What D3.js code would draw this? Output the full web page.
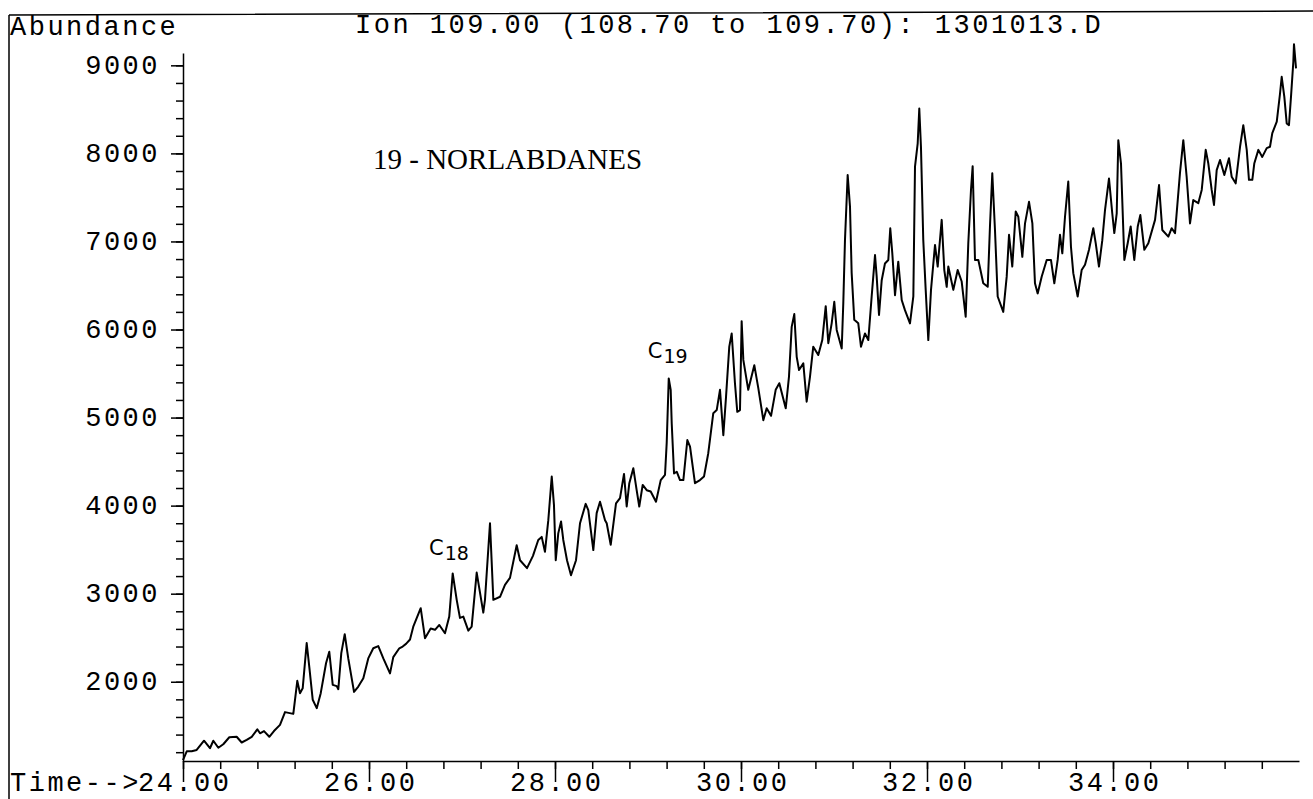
<!DOCTYPE html>
<html>
<head>
<meta charset="utf-8">
<script src="https://cdn.jsdelivr.net/npm/d3@7"></script>
<style>
  body { margin: 0; background: #fff; }
  svg { display: block; }
  .mono { font-family: "Liberation Mono", "Courier New", monospace; font-size: 27px; letter-spacing: 2.5px; fill: #000; }
</style>
</head>
<body>
<div id="chart"></div>
<script>
// Ion chromatogram, m/z 109 (19-norlabdanes)

// retention time (min)
const times = [
  24.000, 24.040, 24.094, 24.147, 24.226, 24.290, 24.326, 24.380, 24.433, 24.498,
  24.577, 24.631, 24.685, 24.739, 24.799, 24.828, 24.871, 24.928, 24.978, 25.043,
  25.097, 25.186, 25.229, 25.258, 25.287, 25.330, 25.358, 25.395, 25.438, 25.481,
  25.538, 25.573, 25.610, 25.653, 25.670, 25.702, 25.739, 25.777, 25.839, 25.885,
  25.939, 25.992, 26.046, 26.100, 26.154, 26.226, 26.261, 26.326, 26.362, 26.398,
  26.441, 26.476, 26.556, 26.602, 26.663, 26.710, 26.756, 26.817, 26.863, 26.900,
  26.943, 26.978, 27.014, 27.068, 27.104, 27.158, 27.229, 27.247, 27.301, 27.337,
  27.409, 27.462, 27.516, 27.588, 27.624, 27.699, 27.763, 27.820, 27.857, 27.892,
  27.928, 27.965, 27.989, 28.008, 28.035, 28.065, 28.089, 28.129, 28.172, 28.226,
  28.269, 28.330, 28.358, 28.412, 28.448, 28.484, 28.538, 28.556, 28.599, 28.656,
  28.699, 28.742, 28.771, 28.799, 28.842, 28.878, 28.906, 28.943, 28.986, 29.029,
  29.086, 29.137, 29.183, 29.201, 29.223, 29.244, 29.255, 29.280, 29.309, 29.344,
  29.380, 29.423, 29.452, 29.505, 29.559, 29.602, 29.648, 29.702, 29.739, 29.774,
  29.810, 29.839, 29.874, 29.900, 29.935, 29.960, 29.989, 30.007, 30.025, 30.078,
  30.143, 30.186, 30.240, 30.276, 30.323, 30.373, 30.412, 30.481, 30.516, 30.545,
  30.573, 30.599, 30.624, 30.670, 30.706, 30.742, 30.777, 30.831, 30.874, 30.911,
  30.939, 30.975, 31.003, 31.029, 31.083, 31.100, 31.118, 31.147, 31.172, 31.190,
  31.218, 31.261, 31.290, 31.333, 31.369, 31.405, 31.441, 31.459, 31.484, 31.513,
  31.548, 31.584, 31.605, 31.627, 31.656, 31.691, 31.728, 31.763, 31.817, 31.853,
  31.871, 31.900, 31.917, 31.935, 31.960, 31.986, 32.014, 32.043, 32.086, 32.115,
  32.158, 32.186, 32.212, 32.229, 32.283, 32.330, 32.373, 32.416, 32.444, 32.473,
  32.491, 32.516, 32.552, 32.605, 32.653, 32.677, 32.702, 32.731, 32.760, 32.820,
  32.857, 32.882, 32.917, 32.954, 32.982, 33.025, 33.054, 33.097, 33.133, 33.161,
  33.190, 33.233, 33.287, 33.333, 33.369, 33.405, 33.430, 33.455, 33.484, 33.519,
  33.548, 33.573, 33.620, 33.663, 33.699, 33.742, 33.788, 33.814, 33.849, 33.885,
  33.914, 33.957, 33.992, 34.014, 34.040, 34.057, 34.086, 34.122, 34.158, 34.190,
  34.229, 34.266, 34.294, 34.337, 34.380, 34.452, 34.495, 34.530, 34.595, 34.631,
  34.667, 34.720, 34.756, 34.792, 34.828, 34.863, 34.917, 34.954, 34.997, 35.025,
  35.061, 35.086, 35.115, 35.151, 35.197, 35.247, 35.276, 35.319, 35.366, 35.401,
  35.438, 35.462, 35.498, 35.519, 35.563, 35.605, 35.653, 35.688, 35.713, 35.761,
  35.796, 35.814, 35.842, 35.868, 35.892, 35.914, 35.939, 35.946, 35.968
];

// abundance (counts)
const abundance = [
  1110, 1210, 1210, 1225, 1330, 1245, 1330, 1250, 1290, 1370,
  1375, 1310, 1340, 1375, 1460, 1415, 1440, 1375, 1440, 1510,
  1655, 1635, 2010, 1870, 1925, 2440, 2170, 1795, 1700, 1870,
  2210, 2340, 1965, 1950, 1915, 2325, 2540, 2265, 1885, 1945,
  2040, 2265, 2380, 2405, 2265, 2095, 2280, 2380, 2400, 2430,
  2480, 2625, 2835, 2495, 2605, 2590, 2645, 2550, 2740, 3230,
  2930, 2725, 2740, 2580, 2625, 3240, 2785, 2930, 3800, 2930,
  2965, 3100, 3180, 3550, 3380, 3290, 3430, 3610, 3645, 3475,
  3835, 4330, 4005, 3380, 3685, 3820, 3610, 3380, 3210, 3380,
  3800, 4020, 3950, 3495, 3915, 4045, 3835, 3800, 3555, 4025,
  4085, 4360, 3990, 4255, 4425, 4175, 3990, 4235, 4175, 4160,
  4045, 4290, 4350, 4710, 5445, 5315, 4935, 4365, 4385, 4290,
  4290, 4745, 4670, 4255, 4290, 4330, 4595, 5050, 5085, 5315,
  4800, 5235, 5805, 5955, 5390, 5065, 5085, 6095, 5655, 5315,
  5595, 5335, 4970, 5105, 5020, 5315, 5390, 5105, 5465, 6030,
  6175, 5690, 5540, 5615, 5180, 5465, 5805, 5710, 5880, 6265,
  5845, 6070, 6315, 5995, 5785, 6300, 7015, 7755, 7395, 6640,
  6110, 6070, 5805, 5955, 5880, 6375, 6845, 6600, 6165, 6560,
  6750, 6790, 7150, 6865, 6390, 6770, 6335, 6220, 6070, 6375,
  7850, 8115, 8510, 8075, 7015, 6450, 5880, 6450, 6960, 6715,
  7245, 6675, 6485, 6715, 6450, 6675, 6545, 6145, 6980, 7585,
  7855, 6790, 6790, 6525, 6485, 7170, 7775, 7130, 6375, 6200,
  6600, 7075, 6715, 7340, 7280, 6825, 7205, 7450, 7205, 6525,
  6410, 6600, 6790, 6790, 6525, 6790, 7075, 6865, 7280, 7680,
  6940, 6640, 6375, 6675, 6735, 6905, 7150, 6980, 6715, 7015,
  7355, 7715, 7320, 7095, 7320, 8150, 7885, 6790, 6980, 7170,
  6790, 7170, 7300, 6905, 6980, 7245, 7640, 7130, 7055, 7150,
  7095, 7775, 8150, 7735, 7205, 7470, 7435, 7585, 8040, 7885,
  7585, 7415, 7810, 7925, 7755, 7945, 7735, 7660, 8075, 8320,
  8040, 7700, 7700, 7885, 8040, 7960, 8060, 8075, 8230, 8360,
  8680, 8870, 8645, 8340, 8320, 8645, 9040, 9240, 8965
];

const xMajorTicks = [24, 26, 28, 30, 32, 34];
const yMajorTicks = [2000, 3000, 4000, 5000, 6000, 7000, 8000, 9000];
const headerLeft = "Abundance";
const headerTitle = "Ion 109.00 (108.70 to 109.70): 1301013.D";
const xPrefix = "Time-->";
const groupLabel = "19 - NORLABDANES";
const peakLabels = [
  {main: "C", sub: "18", t: 26.645, v: 3440},
  {main: "C", sub: "19", t: 28.997, v: 5680}
];

const W = 1313, H = 799;
const svg = d3.select("#chart").append("svg")
  .attr("width", W)
  .attr("height", H);

const x = d3.scaleLinear().domain([24, 36]).range([183, 1299]);
const y = d3.scaleLinear().domain([1100, 9140]).range([761, 53]);

// frame lines (top and left)
svg.append("path")
  .attr("d", "M9,15 L1313,11 M9,15 L9,799")
  .attr("stroke", "#000")
  .attr("stroke-width", 1.5)
  .attr("fill", "none");

// header
svg.append("text").attr("class", "mono")
  .attr("x", 10).attr("y", 35)
  .text(headerLeft);
svg.append("text").attr("class", "mono")
  .attr("x", 355).attr("y", 33)
  .text(headerTitle);

function styleAxis(g) {
  g.selectAll("line, path").attr("stroke", "#000").attr("stroke-width", 1.5);
}

// X axis - minor ticks
svg.append("g")
  .attr("transform", `translate(0,${y.range()[0]})`)
  .call(d3.axisBottom(x).tickValues(d3.range(24, 36, 0.4)).tickSize(8).tickFormat(""))
  .call(g => g.select(".domain").remove())
  .call(styleAxis);

// X axis - major ticks + labels ("." sits on the tick)
svg.append("g")
  .attr("transform", `translate(0,${y.range()[0]})`)
  .call(d3.axisBottom(x).tickValues(xMajorTicks).tickSize(21).tickSizeOuter(0)
    .tickFormat(d3.format(".2f")))
  .call(styleAxis)
  .call(g => g.selectAll("text")
    .attr("class", "mono")
    .attr("y", 30).attr("dy", 0)
    .attr("dx", 1.25)
    .attr("text-anchor", "middle"));

svg.append("text").attr("class", "mono")
  .attr("x", 10).attr("y", 791)
  .text(xPrefix);

// Y axis - minor ticks
svg.append("g")
  .attr("transform", `translate(${x.range()[0]},0)`)
  .call(d3.axisLeft(y).tickValues(d3.range(1200, 9001, 200)).tickSize(7).tickFormat(""))
  .call(g => g.select(".domain").remove())
  .call(styleAxis);

// Y axis - major ticks + labels
svg.append("g")
  .attr("transform", `translate(${x.range()[0]},0)`)
  .call(d3.axisLeft(y).tickValues(yMajorTicks).tickSize(12).tickSizeOuter(0).tickPadding(11)
    .tickFormat(d3.format("d")))
  .call(styleAxis)
  .call(g => g.selectAll("text").attr("class", "mono").attr("dy", "0.3em"));

// trace
const data = times.map((t, i) => ({t: t, v: abundance[i]}));
const line = d3.line()
  .x(d => x(d.t))
  .y(d => y(d.v));

svg.append("path")
  .datum(data)
  .attr("fill", "none")
  .attr("stroke", "#000")
  .attr("stroke-width", 2)
  .attr("stroke-linejoin", "round")
  .attr("d", line);

// annotations
svg.append("text")
  .attr("x", 373).attr("y", 169)
  .attr("font-family", "'Liberation Serif', 'Times New Roman', serif")
  .attr("font-size", 29)
  .attr("fill", "#000")
  .text(groupLabel);

// hand-written peak labels
peakLabels.forEach(p => {
  const t = svg.append("text")
    .attr("x", x(p.t)).attr("y", y(p.v))
    .attr("font-family", "'DejaVu Sans', sans-serif")
    .attr("fill", "#000");
  t.append("tspan").attr("font-size", 21).text(p.main);
  t.append("tspan").attr("font-size", 19).attr("dy", 5).attr("dx", 1).text(p.sub);
});
</script>
</body>
</html>
